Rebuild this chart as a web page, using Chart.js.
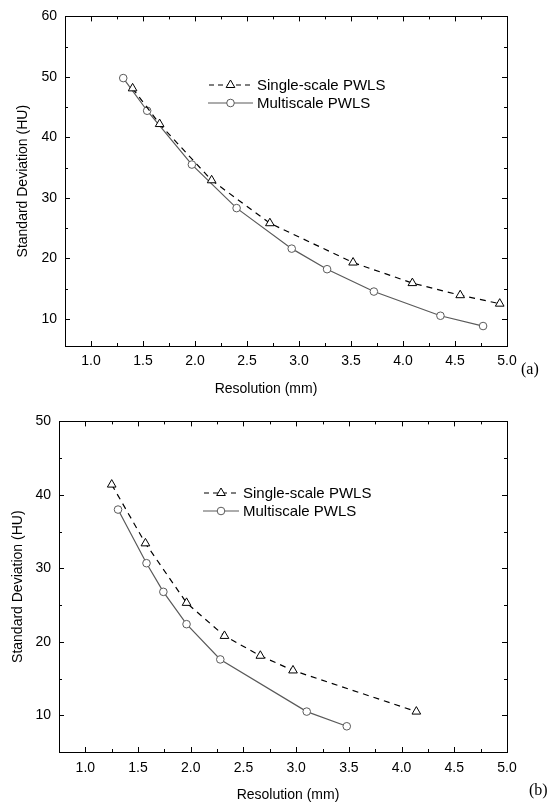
<!DOCTYPE html>
<html>
<head>
<meta charset="utf-8">
<script src="https://cdn.jsdelivr.net/npm/chart.js@4.4.0/dist/chart.umd.min.js"></script>
<style>
    html, body { margin: 0; padding: 0; background: #fff; width: 547px; height: 812px; overflow: hidden; }
    .panel { position: absolute; left: 0; width: 547px; }
    #wrapA { top: 0; height: 405px; }
    #wrapB { top: 405px; height: 407px; }
    .tag { position: absolute; font-family: "Liberation Serif", "DejaVu Serif", serif; font-size: 16px; color: #000; line-height: 1; }
</style>
</head>
<body>
<div class="panel" id="wrapA"><canvas id="chartA"></canvas></div>
<div class="panel" id="wrapB"><canvas id="chartB"></canvas></div>
<div class="tag" style="left:521px; top:361px;">(a)</div>
<div class="tag" style="left:529px; top:782px;">(b)</div>
<script>
// Werte
const seriesNames = ['Single-scale PWLS', 'Multiscale PWLS'];
const xTickValues = [1.0, 1.5, 2.0, 2.5, 3.0, 3.5, 4.0, 4.5, 5.0];
const xTitle = 'Resolution (mm)';
const yTitle = 'Standard Deviation (HU)';

// (a)
const aSingleX = [1.40, 1.66, 2.16, 2.72, 3.52, 4.09, 4.55, 4.93];
const aSingleY = [48.1, 42.2, 32.9, 25.8, 19.3, 15.9, 13.9, 12.5];
const aMultiX = [1.31, 1.54, 1.97, 2.40, 2.93, 3.27, 3.72, 4.36, 4.77];
const aMultiY = [49.8, 44.4, 35.5, 28.3, 21.6, 18.2, 14.5, 10.5, 8.8];
const aYTicks = [10, 20, 30, 40, 50, 60];

// (b)
const bSingleX = [1.25, 1.57, 1.96, 2.32, 2.66, 2.97, 4.14];
const bSingleY = [41.4, 33.4, 25.3, 20.8, 18.1, 16.1, 10.5];
const bMultiX = [1.31, 1.58, 1.74, 1.96, 2.28, 3.10, 3.48];
const bMultiY = [38.0, 30.7, 26.8, 22.4, 17.6, 10.5, 8.5];
const bYTicks = [10, 20, 30, 40, 50];

const FAMILY = '"Liberation Sans", Arial, Helvetica, sans-serif';
const FONT = { family: FAMILY, size: 14 };
const TITLE_FONT = { family: FAMILY, size: 14 };

const toPoints = (xs, ys) => xs.map((x, i) => ({ x, y: ys[i] }));

// Rahmen mit nach innen zeigenden Ticks auf allen vier Seiten
const frameTicks = {
    id: 'frameTicks',
    afterDatasetsDraw(chart) {
        const { ctx, chartArea: a, scales: { x, y } } = chart;
        ctx.save();
        ctx.strokeStyle = '#000';
        ctx.lineWidth = 1;
        ctx.strokeRect(Math.round(a.left) + 0.5, Math.round(a.top) + 0.5,
            Math.round(a.right - a.left), Math.round(a.bottom - a.top));
        ctx.beginPath();
        for (let k = Math.ceil(x.min * 4); k <= Math.floor(x.max * 4); k++) {
            const v = k / 4;
            const px = Math.round(x.getPixelForValue(v)) + 0.5;
            const len = k % 2 === 0 ? 5 : 3;
            ctx.moveTo(px, a.bottom); ctx.lineTo(px, a.bottom - len);
            ctx.moveTo(px, a.top); ctx.lineTo(px, a.top + len);
        }
        for (let v = Math.ceil(y.min / 5) * 5; v <= y.max; v += 5) {
            const py = Math.round(y.getPixelForValue(v)) + 0.5;
            const len = v % 10 === 0 ? 5 : 3;
            ctx.moveTo(a.left, py); ctx.lineTo(a.left + len, py);
            ctx.moveTo(a.right, py); ctx.lineTo(a.right - len, py);
        }
        ctx.stroke();
        ctx.restore();
    }
};

// x-Achsentitel, leicht versetzt wie im Original
const xAxisTitle = {
    id: 'xAxisTitle',
    afterDraw(chart, args, opts) {
        const { ctx, chartArea: a } = chart;
        ctx.save();
        ctx.fillStyle = '#000';
        ctx.font = `${opts.size}px ${FAMILY}`;
        ctx.textAlign = 'center';
        ctx.textBaseline = 'middle';
        ctx.fillText(xTitle, (a.left + a.right) / 2 + opts.dx, a.bottom + opts.dy);
        ctx.restore();
    }
};

// Legende: Linienstück mit Symbol in der Mitte
const lineLegend = {
    id: 'lineLegend',
    afterDraw(chart, args, opts) {
        const { ctx } = chart;
        ctx.save();
        chart.data.datasets.forEach((ds, i) => {
            const cy = opts.y + i * opts.gap;
            ctx.strokeStyle = ds.borderColor;
            ctx.lineWidth = ds.borderWidth;
            ctx.setLineDash(ds.borderDash ? [5, 4] : []);
            ctx.lineDashOffset = ds.borderDash ? -1 : 0;
            ctx.beginPath();
            ctx.moveTo(opts.x, cy);
            ctx.lineTo(opts.x + opts.len, cy);
            ctx.stroke();
            ctx.setLineDash([]);
            const cx = opts.x + opts.len / 2;
            const r = ds.pointRadius;
            ctx.fillStyle = ds.pointBackgroundColor;
            ctx.strokeStyle = ds.pointBorderColor;
            ctx.lineWidth = ds.pointBorderWidth;
            ctx.beginPath();
            if (ds.pointStyle === 'triangle') {
                for (let k = 0; k < 3; k++) {
                    const ang = k * 2 * Math.PI / 3;
                    const px = cx + Math.sin(ang) * r, py = cy - Math.cos(ang) * r;
                    k === 0 ? ctx.moveTo(px, py) : ctx.lineTo(px, py);
                }
                ctx.closePath();
            } else {
                ctx.arc(cx, cy, r, 0, Math.PI * 2);
            }
            ctx.fill();
            ctx.stroke();
            ctx.fillStyle = '#000';
            ctx.font = `${opts.fontSize}px ${FAMILY}`;
            ctx.textBaseline = 'middle';
            ctx.textAlign = 'left';
            ctx.fillText(ds.label, opts.textX, cy + 1);
        });
        ctx.restore();
    }
};

function makeDatasets(singleX, singleY, multiX, multiY) {
    return [{
        label: seriesNames[0],
        data: toPoints(singleX, singleY),
        borderColor: '#000',
        borderWidth: 1.2,
        borderDash: [6, 5],
        pointStyle: 'triangle',
        pointRadius: 5,
        pointBackgroundColor: '#fff',
        pointBorderColor: '#000',
        pointBorderWidth: 1,
        tension: 0
    }, {
        label: seriesNames[1],
        data: toPoints(multiX, multiY),
        borderColor: '#5a5a5a',
        borderWidth: 1.2,
        pointStyle: 'circle',
        pointRadius: 3.8,
        pointBackgroundColor: '#fff',
        pointBorderColor: '#5a5a5a',
        pointBorderWidth: 1,
        tension: 0
    }];
}

function makeConfig(datasets, cfg) {
    return {
        type: 'line',
        data: { datasets },
        plugins: [frameTicks, xAxisTitle, lineLegend],
        options: {
            responsive: true,
            maintainAspectRatio: false,
            animation: false,
            layout: { padding: { top: 14, right: 40, left: 0, bottom: 0 } },
            scales: {
                x: {
                    type: 'linear',
                    min: 0.75,
                    max: 5.0,
                    afterBuildTicks: s => { s.ticks = xTickValues.map(v => ({ value: v })); },
                    afterFit: s => { s.height = cfg.xHeight; },
                    grid: { display: false, drawTicks: false },
                    border: { display: false },
                    ticks: { callback: v => v.toFixed(1), font: FONT, color: '#000', padding: cfg.xTickPad, maxRotation: 0, autoSkip: false },
                    title: { display: false }
                },
                y: {
                    min: cfg.yMin,
                    max: cfg.yMax,
                    afterBuildTicks: s => { s.ticks = cfg.yTicks.map(v => ({ value: v })); },
                    afterFit: s => { s.width = cfg.yWidth; },
                    grid: { display: false, drawTicks: false },
                    border: { display: false },
                    ticks: { font: FONT, color: '#000', padding: 8 },
                    title: { display: true, text: yTitle, font: TITLE_FONT, color: '#000', padding: { top: cfg.yTitlePad, bottom: 0 } }
                }
            },
            plugins: {
                legend: { display: false },
                tooltip: { enabled: false },
                lineLegend: cfg.legend,
                xAxisTitle: cfg.xTitle
            }
        }
    };
}

new Chart(document.getElementById('chartA'), makeConfig(
    makeDatasets(aSingleX, aSingleY, aMultiX, aMultiY),
    { yMin: 5.5, yMax: 60, yTicks: aYTicks, yWidth: 65, xHeight: 59, xTickPad: 7, yTitlePad: 15,
      xTitle: { dx: -20, dy: 43, size: 14 },
      legend: { x: 208, y: 85, gap: 18, len: 45, textX: 257, fontSize: 15 } }
));

new Chart(document.getElementById('chartB'), makeConfig(
    makeDatasets(bSingleX, bSingleY, bMultiX, bMultiY),
    { yMin: 5, yMax: 50, yTicks: bYTicks, yWidth: 59, xHeight: 60, xTickPad: 8, yTitlePad: 10,
      xTitle: { dx: 5, dy: 43, size: 14 },
      legend: { x: 203, y: 88, gap: 18, len: 36, textX: 243, fontSize: 15 } }
));
</script>
</body>
</html>
